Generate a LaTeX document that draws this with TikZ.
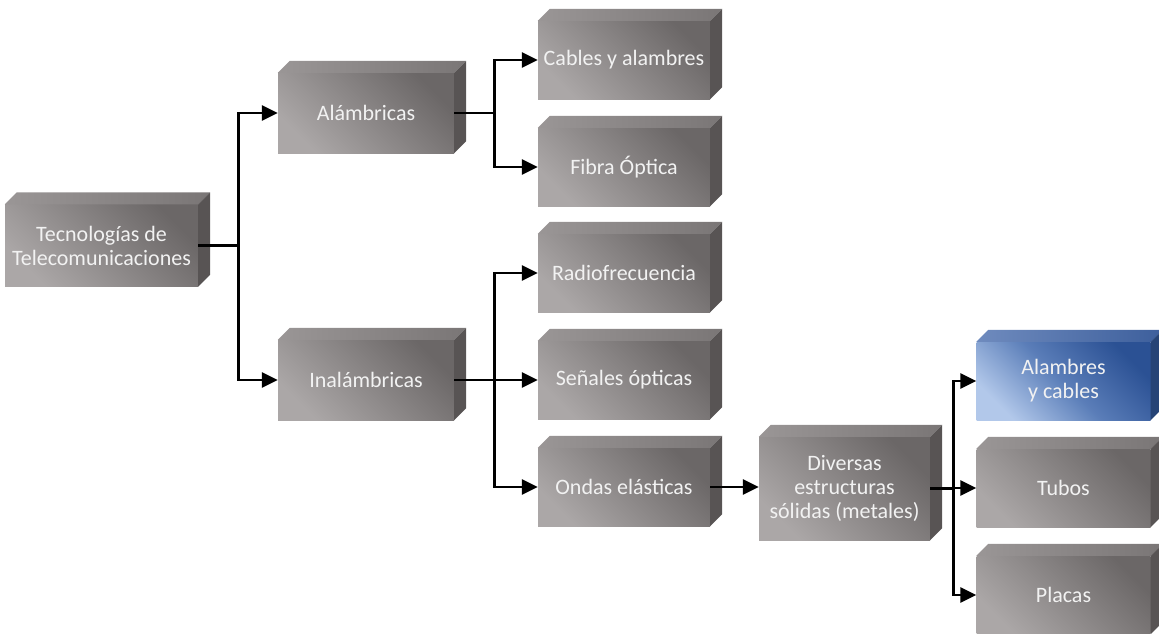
\documentclass[tikz,border=0pt]{standalone}
\usepackage{fontspec}
\setmainfont{Carlito}
\usetikzlibrary{arrows.meta}
\definecolor{boxlight}{HTML}{ABA7A7}
\definecolor{boxdark}{HTML}{6B6767}
\definecolor{boxtopl}{HTML}{9A9696}
\definecolor{boxtopr}{HTML}{7A7676}
\definecolor{boxside}{HTML}{585454}
\definecolor{bluelight}{HTML}{B2C8EA}
\definecolor{bluemid}{HTML}{5A7DB8}
\definecolor{bluedark}{HTML}{2B5194}
\definecolor{bluetopl}{HTML}{6F8BBE}
\definecolor{bluetopr}{HTML}{3D5F9C}
\definecolor{blueside}{HTML}{264476}
\begin{document}
\begin{tikzpicture}[x=1pt,y=-1pt]
        \tikzstyle{box} = [rectangle, minimum width=172pt, minimum height=78pt, align=center, text=white!95!black, font=\fontsize{22}{24}\selectfont, inner sep=2pt, top color=boxdark, bottom color=boxlight, shading angle=-45, node distance=107pt]
        \tikzstyle{bluebox} = [box, top color=bluedark, bottom color=bluelight, middle color=bluemid, shading angle=-45]
        \tikzstyle{arrow} = [line width=2.6pt, -{Triangle[length=16pt,width=15pt]}]
        \def\dep{12pt}

                \useasboundingbox (0,0) rectangle (1159,634);

                \node (tec) [box, minimum width=193pt, minimum height=82pt] at (101.5,245.5) {Tecnologías de\\Telecomunicaciones};
                \node (alam) [box, minimum width=176pt, minimum height=80pt] at (366,113) {Alámbricas};
                \node (inal) [box, minimum width=176pt, minimum height=80pt] at (366,380) {Inalámbricas};
                \node (cables) [box] at (624,60) {Cables y alambres};
                \node (fibra) [box, below of=cables] {Fibra Óptica};
                \node (radio) [box] at (624,273) {Radiofrecuencia};
                \node (senales) [box, below of=radio] {Señales ópticas};
                \node (ondas) [box, below of=senales] {Ondas elásticas};
                \node (diversas) [box, minimum width=171pt, minimum height=103pt] at (844.5,488.5) {Diversas\\estructuras\\sólidas (metales)};
                \node (alamcab) [bluebox, minimum width=174pt] at (1063.5,381) {Alambres\\y cables};
                \node (tubos) [box, minimum width=174pt, below of=alamcab] {Tubos};
                \node (placas) [box, minimum width=174pt, below of=tubos] {Placas};

                % top and side faces of the boxes
                \foreach \n in {tec,alam,inal,cables,fibra,radio,senales,ondas,diversas,tubos,placas} {
                        \shade[left color=boxtopl, right color=boxtopr] (\n.north west) -- ++(\dep,\dep) -- ([shift={(\dep,\dep)}]\n.north east) -- (\n.north east) -- cycle;
                        \fill[boxside] (\n.north east) -- ++(\dep,\dep) -- ([shift={(\dep,\dep)}]\n.south east) -- (\n.south east) -- cycle;
                }
                \shade[left color=bluetopl, right color=bluetopr] (alamcab.north west) -- ++(\dep,\dep) -- ([shift={(\dep,\dep)}]alamcab.north east) -- (alamcab.north east) -- cycle;
                \fill[blueside] (alamcab.north east) -- ++(\dep,\dep) -- ([shift={(\dep,\dep)}]alamcab.south east) -- (alamcab.south east) -- cycle;

                \draw[arrow] (tec.east) -- ++(40,0) |- (alam.west);
                \draw[arrow] (tec.east) -- ++(40,0) |- (inal.west);
                \draw[arrow] (alam.east) -- ++(40,0) |- (cables.west);
                \draw[arrow] (alam.east) -- ++(40,0) |- (fibra.west);
                \draw[arrow] (inal.east) -- ++(40,0) |- (radio.west);
                \draw[arrow] (inal.east) -- (senales.west);
                \draw[arrow] (inal.east) -- ++(40,0) |- (ondas.west);
                \draw[arrow] (ondas.east) -- (ondas.east -| diversas.west);
                \draw[arrow] (diversas.east) -- ++(23,0) |- (alamcab.west);
                \draw[arrow] (diversas.east) -- ++(23,0) |- (tubos.west);
                \draw[arrow] (diversas.east) -- ++(23,0) |- (placas.west);
    \end{tikzpicture}
\end{document}
